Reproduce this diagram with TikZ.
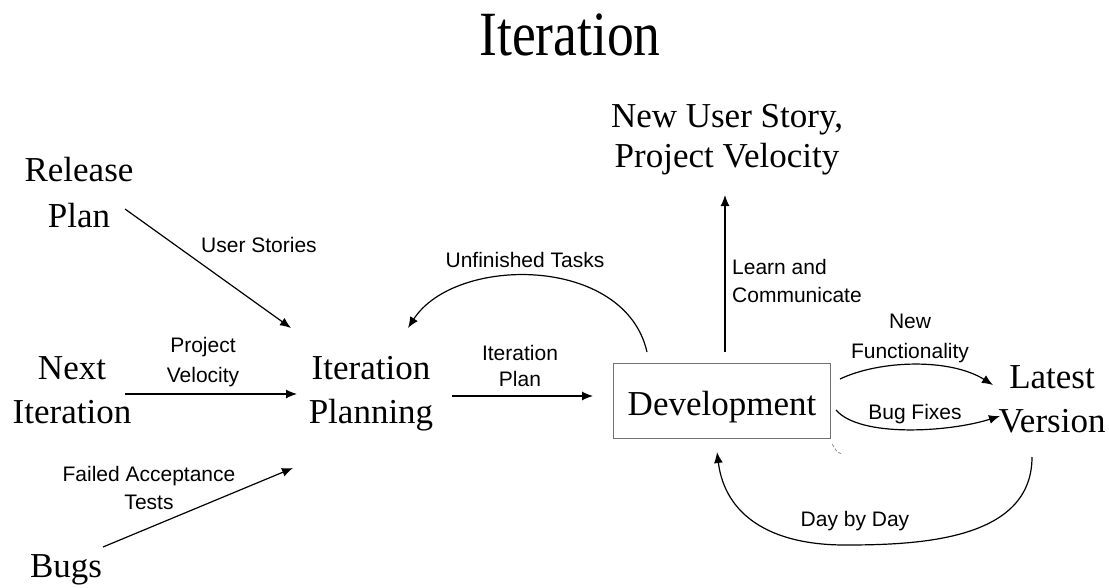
\documentclass[tikz,border=0pt]{standalone}
\usepackage{fontspec}
\setmainfont{Liberation Serif}
\newfontfamily\lblfont{Liberation Sans}
\newfontfamily\titlefont[FakeStretch=0.85]{Liberation Serif}
\usetikzlibrary{arrows.meta,calc}
\tikzset{
  big/.style={font=\fontsize{35}{44}\selectfont, align=center, inner sep=0pt},
  lbl/.style={font=\lblfont\fontsize{21}{28}\selectfont, align=center, inner sep=0pt},
  conn/.style={line width=1.2pt, -{Latex[length=11pt,width=9pt]}},
}
\begin{document}
\begin{tikzpicture}[x=1pt,y=-1pt]
\useasboundingbox (0,0) rectangle (1109,587);
\node[font=\titlefont\fontsize{63}{70}\selectfont, inner sep=0pt] (title) at (570,35) {Iteration};
\node[big, font=\fontsize{35}{46}\selectfont] (rp) at (79,193) {Release\\Plan};
\node[big] (ni) at (72,390) {Next\\Iteration};
\node[big] (ip) at (371,394) {Iteration\\Planning};
\node[big] (bugs) at (66,570) {Bugs};
\node[big, font=\fontsize{35}{40}\selectfont] (nus) at (727,140) {New User Story,\\Project Velocity};
\node[draw=black!55, line width=0.8pt, minimum width=217pt, minimum height=75pt, inner sep=0pt] (dev) at (721.5,400.5) {};
\node[big, anchor=base] (devt) at (722,415) {Development};
\node[big] (lv) at (1052,399) {Latest\\Version};

% connectors
\draw[conn] ($(rp.center)+(46,16)$) -- ($(ip.center)+(-80,-66)$);
\draw[conn] ($(ni.center)+(53,4)$) -- ($(ip.center)+(-74,0)$);
\draw[conn] ($(bugs.center)+(37,-23)$) -- ($(ip.center)+(-78,74)$);
\draw[conn] ($(ip.center)+(81,2)$) -- ($(dev.center)+(-128.5,-4.5)$);
\draw[conn] ($(dev.center)+(-74.5,-48.5)$) .. controls (625,255) and (455,255) .. ($(ip.center)+(37,-66)$);
\draw[conn] ($(dev.center)+(3.5,-48.5)$) -- ($(nus.center)+(-2,55)$);
\draw[conn] ($(dev.center)+(118.5,-21.5)$) .. controls (880,360) and (950,358) .. ($(lv.center)+(-59,-14)$);
\draw[conn] ($(dev.center)+(114.5,9.5)$) .. controls (860,438) and (950,432) .. ($(lv.center)+(-52,17)$);
\draw[conn] ($(lv.center)+(-20,58)$) .. controls (1032,540) and (920,545) .. (845,545) .. controls (770,545) and (725,515) .. ($(dev.center)+(-4.5,51.5)$);
\draw[black!45, line width=0.8pt, densely dashed] ($(dev.south east)+(2,6)$) .. controls ($(dev.south east)+(6,13)$) .. ($(dev.south east)+(12,16)$);

% labels
\node[lbl] (l1) at (259,245) {User Stories};
\node[lbl, font=\lblfont\fontsize{21}{30}\selectfont] (l2) at (203,362) {Project\\Velocity};
\node[lbl] (l3) at (149,488) {Failed Acceptance\\Tests};
\node[lbl, font=\lblfont\fontsize{21}{26}\selectfont] (l4) at (520,366) {Iteration\\Plan};
\node[lbl] (l5) at (525,260) {Unfinished Tasks};
\node[lbl, align=left, anchor=west, font=\lblfont\fontsize{21}{28}\selectfont] (l6) at (732,281) {Learn and\\Communicate};
\node[lbl, font=\lblfont\fontsize{21}{30}\selectfont] (l7) at (910,338) {New\\Functionality};
\node[lbl] (l8) at (915,414) {Bug Fixes};
\node[lbl] (l9) at (855,521) {Day by Day};
\end{tikzpicture}
\end{document}
